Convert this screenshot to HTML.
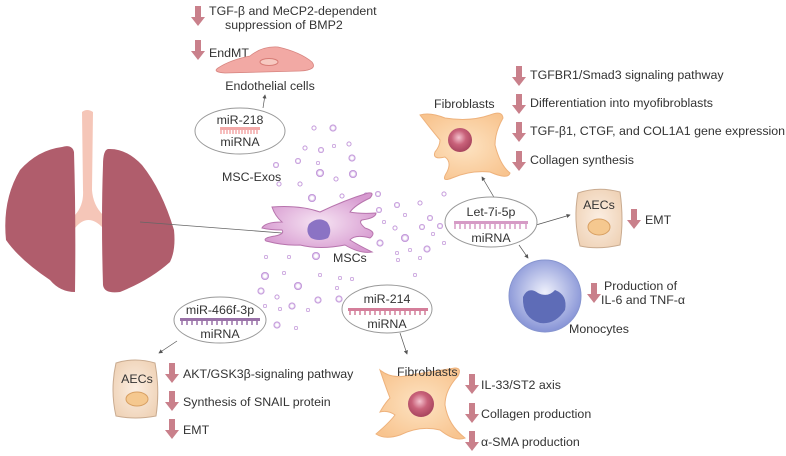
<!DOCTYPE html>
<html><head><meta charset="utf-8"><style>
html,body{margin:0;padding:0;background:#fff;}
svg{display:block;}
text{font-family:"Liberation Sans",Arial,sans-serif;font-size:12.4px;fill:#333;}
</style></head><body>
<svg width="786" height="456" viewBox="0 0 786 456" xmlns="http://www.w3.org/2000/svg">
<defs>
<symbol id="da" overflow="visible"><path d="M-3,0 h6 v11 h4 l-7,9 l-7,-9 h4z" fill="#c9808b"/></symbol>
<radialGradient id="fib" cx="50%" cy="50%" r="60%"><stop offset="0" stop-color="#fde3c2"/><stop offset="1" stop-color="#f8c48f"/></radialGradient>
<radialGradient id="nuc" cx="45%" cy="40%" r="60%"><stop offset="0" stop-color="#f4c3cf"/><stop offset="0.5" stop-color="#c9627a"/><stop offset="1" stop-color="#a8455e"/></radialGradient>
<radialGradient id="mono" cx="50%" cy="45%" r="55%"><stop offset="0" stop-color="#eef0fb"/><stop offset="1" stop-color="#8693d6"/></radialGradient>
<radialGradient id="msc" cx="50%" cy="50%" r="55%"><stop offset="0" stop-color="#f6e4f3"/><stop offset="1" stop-color="#d79ad0"/></radialGradient>
<radialGradient id="aec" cx="50%" cy="50%" r="60%"><stop offset="0" stop-color="#fbeee2"/><stop offset="1" stop-color="#efd2b6"/></radialGradient>
<radialGradient id="exo" cx="50%" cy="50%" r="50%"><stop offset="0.4" stop-color="#fff"/><stop offset="1" stop-color="#b27bd0"/></radialGradient>
<marker id="ar" markerWidth="6" markerHeight="6" refX="5" refY="3" orient="auto"><path d="M0,0 L6,3 L0,6z" fill="#555"/></marker>
</defs>

<!-- lungs -->
<path d="M82,112 Q87,108 93,112 L92,190 Q93,205 103,215 L103,228 Q88,212 75,228 L75,215 Q84,205 83,190z" fill="#f5c6b8"/>
<path d="M62,147 Q72,144 74,152 Q76,220 75,292 Q60,292 50,280 Q20,260 6,240 Q2,200 20,170 Q38,150 62,147z" fill="#b05d6c"/>
<path d="M108,149 Q126,148 142,165 Q162,190 174,230 Q176,250 170,262 Q150,280 120,292 Q104,294 103,285 Q101,220 103,165 Q103,150 108,149z" fill="#b05d6c"/>
<line x1="140" y1="222" x2="282" y2="233" stroke="#666" stroke-width="0.8"/>

<!-- exosomes -->
<g fill="url(#exo)">
<circle cx="314" cy="128" r="2.5"/><circle cx="333" cy="128" r="3.5"/><circle cx="305" cy="148" r="2.5"/><circle cx="321" cy="150" r="3"/><circle cx="334" cy="146" r="2"/><circle cx="349" cy="144" r="2.5"/><circle cx="352" cy="158" r="3.5"/><circle cx="276" cy="165" r="3"/><circle cx="298" cy="161" r="3"/><circle cx="318" cy="163" r="2"/><circle cx="320" cy="173" r="4"/><circle cx="353" cy="174" r="4"/><circle cx="279" cy="184" r="2.5"/><circle cx="300" cy="184" r="2.5"/><circle cx="336" cy="179" r="2.5"/><circle cx="342" cy="196" r="2.5"/><circle cx="366" cy="195" r="2.5"/><circle cx="378" cy="194" r="3"/><circle cx="312" cy="198" r="4"/><circle cx="379" cy="210" r="3"/><circle cx="380" cy="243" r="3.5"/><circle cx="384" cy="222" r="2"/><circle cx="397" cy="205" r="3"/><circle cx="405" cy="215" r="2"/><circle cx="420" cy="203" r="2.5"/><circle cx="395" cy="228" r="2.5"/><circle cx="422" cy="227" r="3"/><circle cx="405" cy="238" r="4"/><circle cx="430" cy="218" r="3"/><circle cx="440" cy="226" r="3"/><circle cx="433" cy="234" r="2"/><circle cx="444" cy="243" r="2"/><circle cx="410" cy="250" r="2"/><circle cx="427" cy="249" r="3.5"/><circle cx="398" cy="260" r="2"/><circle cx="420" cy="258" r="2"/><circle cx="415" cy="275" r="2"/><circle cx="444" cy="194" r="2.5"/><circle cx="397" cy="253" r="2"/>
<circle cx="266" cy="257" r="2"/><circle cx="289" cy="257" r="2"/><circle cx="316" cy="256" r="4"/><circle cx="265" cy="276" r="4"/><circle cx="284" cy="273" r="2"/><circle cx="298" cy="286" r="4"/><circle cx="320" cy="275" r="2"/><circle cx="340" cy="278" r="2"/><circle cx="261" cy="291" r="3.5"/><circle cx="277" cy="297" r="2.5"/><circle cx="292" cy="306" r="3.5"/><circle cx="318" cy="300" r="3.5"/><circle cx="339" cy="299" r="3.5"/><circle cx="265" cy="306" r="2"/><circle cx="280" cy="309" r="2"/><circle cx="308" cy="310" r="2"/><circle cx="277" cy="325" r="3.5"/><circle cx="296" cy="328" r="2"/><circle cx="337" cy="288" r="2"/><circle cx="352" cy="279" r="2"/>
</g>

<!-- MSC -->
<path d="M272,207 Q300,205 320,212 Q345,200 368,193 Q375,192 370,198 Q355,205 350,212 Q360,214 376,213 Q376,218 362,220 Q358,222 365,228 Q378,232 370,238 Q355,234 350,240 Q358,245 372,252 Q360,254 345,245 Q320,250 300,245 Q285,246 266,241 Q262,238 275,236 Q285,234 282,230 Q270,230 262,228 Q265,222 282,222 Q275,216 272,207z" fill="url(#msc)" stroke="#b774ad" stroke-width="1"/>
<path d="M309,224 Q318,216 327,222 Q333,230 328,238 Q319,242 311,238 Q305,232 309,224z" fill="#8b73c4"/>
<text x="333" y="262">MSCs</text>
<text x="222" y="181">MSC-Exos</text>

<!-- Top left -->
<use href="#da" x="198" y="6"/>
<text x="209" y="15">TGF-β and MeCP2-dependent</text>
<text x="225" y="29">suppression of BMP2</text>
<use href="#da" x="198" y="40"/>
<text x="209" y="57">EndMT</text>
<path d="M218,68 Q230,60 250,56 Q262,46 278,47 Q300,52 312,62 Q318,70 300,71 L225,73 Q212,72 218,68z" fill="#f2a9a4" stroke="#d78580" stroke-width="0.8"/>
<ellipse cx="269" cy="62" rx="9" ry="3.5" fill="#f7c9c1" stroke="#d77c76"/>
<text x="270" y="90" text-anchor="middle">Endothelial cells</text>
<line x1="263" y1="108" x2="265" y2="95" stroke="#555" stroke-width="0.7" marker-end="url(#ar)"/>
<ellipse cx="240" cy="131" rx="45" ry="23" fill="#fff" stroke="#999"/>
<text x="240" y="124" text-anchor="middle">miR-218</text>
<rect x="220" y="127" width="40" height="3" fill="#f3a9a8"/>
<path d="M221,130 v4 M224,130 v4 M227,130 v4 M230,130 v4 M233,130 v4 M236,130 v4 M239,130 v4 M242,130 v4 M245,130 v4 M248,130 v4 M251,130 v4 M254,130 v4 M257,130 v4" stroke="#f3a9a8" stroke-width="1.5"/>
<text x="240" y="146" text-anchor="middle">miRNA</text>

<!-- Top right fibroblast -->
<path d="M420,115 Q430,112 445,118 Q470,122 490,115 Q502,110 503,118 Q495,132 495,145 Q500,165 510,173 Q508,180 490,172 Q470,170 452,178 Q440,183 447,172 Q452,162 445,157 Q432,160 435,152 Q440,146 440,140 Q430,128 420,115z" fill="url(#fib)" stroke="#eeb27c" stroke-width="1"/>
<circle cx="460" cy="140" r="12" fill="url(#nuc)"/>
<text x="434" y="108">Fibroblasts</text>
<use href="#da" x="519" y="66"/><text x="530" y="79">TGFBR1/Smad3 signaling pathway</text>
<use href="#da" x="519" y="94"/><text x="530" y="107">Differentiation into myofibroblasts</text>
<use href="#da" x="519" y="122"/><text x="530" y="135">TGF-β1, CTGF, and COL1A1 gene expression</text>
<use href="#da" x="519" y="151"/><text x="530" y="164">Collagen synthesis</text>

<!-- Let-7i-5p -->
<line x1="495" y1="199" x2="482" y2="177" stroke="#555" stroke-width="0.7" marker-end="url(#ar)"/>
<line x1="536" y1="225" x2="570" y2="215" stroke="#555" stroke-width="0.7" marker-end="url(#ar)"/>
<line x1="519" y1="245" x2="528" y2="258" stroke="#555" stroke-width="0.7" marker-end="url(#ar)"/>
<ellipse cx="491" cy="222" rx="46" ry="25" fill="#fff" stroke="#999"/>
<text x="491" y="216" text-anchor="middle">Let-7i-5p</text>
<rect x="454" y="221" width="74" height="3" fill="#d69bc6"/>
<path d="M455,224 v5 M460,224 v5 M465,224 v5 M470,224 v5 M475,224 v5 M480,224 v5 M485,224 v5 M490,224 v5 M495,224 v5 M500,224 v5 M505,224 v5 M510,224 v5 M515,224 v5 M520,224 v5 M526,224 v5" stroke="#d69bc6" stroke-width="1.5"/>
<text x="491" y="242" text-anchor="middle">miRNA</text>

<!-- AECs right -->
<path d="M578,193 Q598,186 620,192 Q624,220 620,245 Q598,250 580,246 Q573,220 578,193z" fill="url(#aec)" stroke="#c9ab90"/>
<text x="599" y="209" text-anchor="middle">AECs</text>
<ellipse cx="599" cy="227" rx="11" ry="8" fill="#f5c88f" stroke="#d8a063"/>
<use href="#da" x="634" y="209"/><text x="645" y="224">EMT</text>

<!-- Monocyte -->
<circle cx="545" cy="296" r="36" fill="url(#mono)" stroke="#8795cf"/>
<path d="M523,297 Q528,286 538,293 Q548,298 555,290 Q568,295 565,310 Q555,325 540,323 Q522,318 523,297z" fill="#5e6cb7"/>
<text x="569" y="333">Monocytes</text>
<use href="#da" x="594" y="283"/>
<text x="604" y="290">Production of</text>
<text x="601" y="304">IL-6 and TNF-α</text>

<!-- miR-214 -->
<line x1="400" y1="333" x2="407" y2="354" stroke="#555" stroke-width="0.7" marker-end="url(#ar)"/>
<ellipse cx="387" cy="309" rx="45" ry="24" fill="#fff" stroke="#999"/>
<text x="387" y="303" text-anchor="middle">miR-214</text>
<rect x="348" y="308" width="80" height="3" fill="#d47e9a"/>
<path d="M350,311 v4 M355,311 v4 M360,311 v4 M365,311 v4 M370,311 v4 M375,311 v4 M380,311 v4 M385,311 v4 M390,311 v4 M395,311 v4 M400,311 v4 M405,311 v4 M410,311 v4 M415,311 v4 M420,311 v4 M425,311 v4" stroke="#d47e9a" stroke-width="1.5"/>
<text x="387" y="328" text-anchor="middle">miRNA</text>

<!-- Fibroblast bottom -->
<path d="M380,370 Q392,380 410,375 Q430,372 455,368 Q462,368 458,376 Q445,390 445,405 Q448,425 465,438 Q455,442 440,430 Q420,425 400,435 Q385,440 376,434 Q390,422 395,415 Q388,410 380,412 Q385,403 390,398 Q385,385 380,370z" fill="url(#fib)" stroke="#eeb27c"/>
<circle cx="421" cy="404" r="13" fill="url(#nuc)"/>
<text x="397" y="376">Fibroblasts</text>
<use href="#da" x="472" y="374"/><text x="481" y="389">IL-33/ST2 axis</text>
<use href="#da" x="472" y="403"/><text x="481" y="418">Collagen production</text>
<use href="#da" x="472" y="431"/><text x="481" y="446">α-SMA production</text>

<!-- miR-466f-3p -->
<line x1="177" y1="341" x2="159" y2="353" stroke="#555" stroke-width="0.7" marker-end="url(#ar)"/>
<ellipse cx="220" cy="320" rx="46" ry="23" fill="#fff" stroke="#999"/>
<text x="220" y="314" text-anchor="middle">miR-466f-3p</text>
<rect x="180" y="318" width="80" height="3" fill="#9a72a8"/>
<path d="M182,321 v4 M187,321 v4 M192,321 v4 M197,321 v4 M202,321 v4 M207,321 v4 M212,321 v4 M217,321 v4 M222,321 v4 M227,321 v4 M232,321 v4 M237,321 v4 M242,321 v4 M247,321 v4 M252,321 v4 M257,321 v4" stroke="#9a72a8" stroke-width="1.5"/>
<text x="220" y="338" text-anchor="middle">miRNA</text>

<!-- AECs left -->
<path d="M116,363 Q135,357 155,363 Q160,390 156,416 Q135,420 116,416 Q110,390 116,363z" fill="url(#aec)" stroke="#c9ab90"/>
<text x="137" y="383" text-anchor="middle">AECs</text>
<ellipse cx="137" cy="399" rx="11" ry="7" fill="#f5c88f" stroke="#d8a063"/>
<use href="#da" x="172" y="363"/><text x="183" y="378">AKT/GSK3β-signaling pathway</text>
<use href="#da" x="172" y="391"/><text x="183" y="406">Synthesis of SNAIL protein</text>
<use href="#da" x="172" y="419"/><text x="183" y="434">EMT</text>
</svg>
</body></html>
